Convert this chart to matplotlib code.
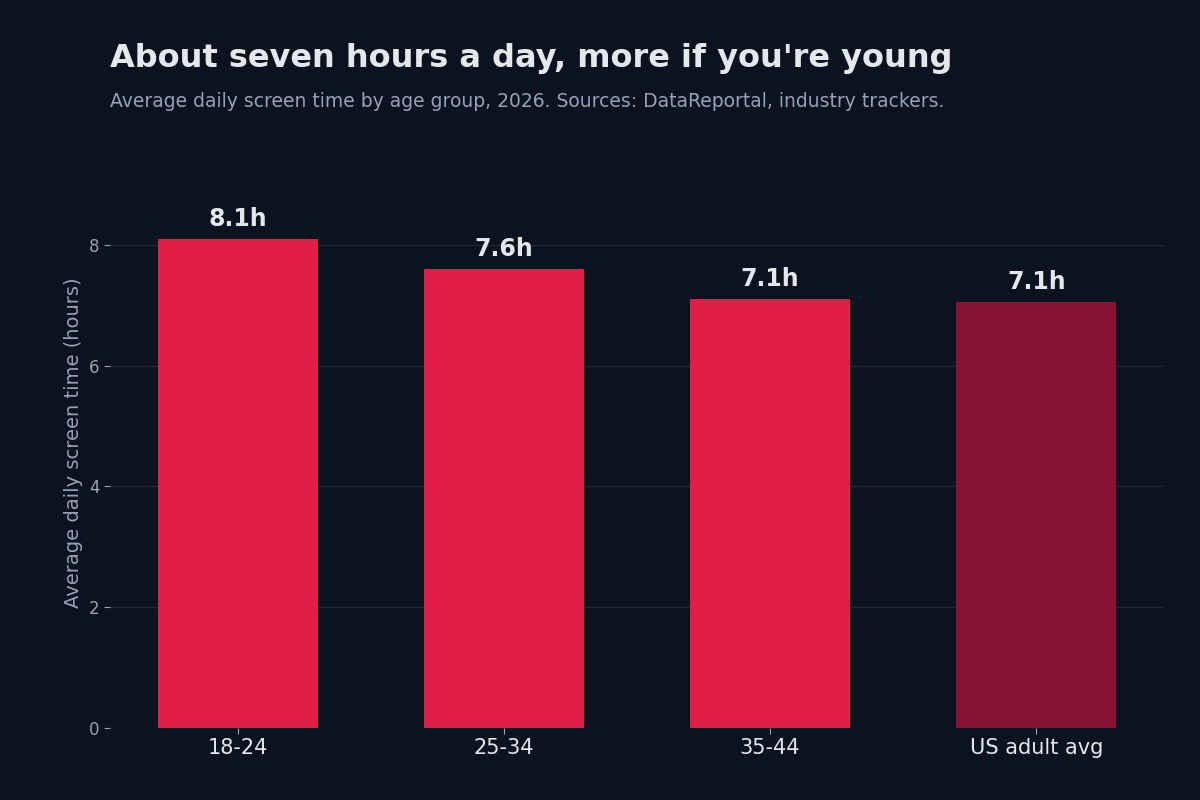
import matplotlib.pyplot as plt

# Data
groups = ["18-24", "25-34", "35-44", "US adult avg"]
hours = [8.1, 7.6, 7.1, 7.05]
labels = ["8.1h", "7.6h", "7.1h", "7.1h"]
colors = ["#e11d48", "#e11d48", "#e11d48", "#881337"]

bg = "#0b1220"
fig = plt.figure(figsize=(12, 8), dpi=100, facecolor=bg)
ax = fig.add_axes([0.0917, 0.09, 0.8783, 0.7125])
ax.set_facecolor(bg)

bars = ax.bar(groups, hours, width=0.6, color=colors, zorder=3)
for b, lab in zip(bars, labels):
    ax.annotate(lab, (b.get_x() + b.get_width() / 2, b.get_height()),
                xytext=(0, 6), textcoords="offset points", ha="center", va="bottom",
                fontsize=17, fontweight="bold", color="#e5e7eb")

ax.set_ylim(0, 9.44)
ax.set_yticks([0, 2, 4, 6, 8])
ax.grid(axis="y", color="#1f2a37", linewidth=1, zorder=0)
for s in ax.spines.values():
    s.set_visible(False)
ax.tick_params(axis="x", colors="#94a3b8", labelcolor="#e5e7eb", labelsize=15, length=4)
ax.tick_params(axis="y", colors="#94a3b8", labelcolor="#94a3b8", labelsize=12, length=4)
ax.set_ylabel("Average daily screen time (hours)", color="#94a3b8", fontsize=14)

fig.text(0.0917, 0.927, "About seven hours a day, more if you're young",
         fontsize=23, fontweight="bold", color="#e5e7eb", va="center")
fig.text(0.0917, 0.873, "Average daily screen time by age group, 2026. Sources: DataReportal, industry trackers.",
         fontsize=13.5, color="#94a3b8", va="center")

fig.savefig("out.png", facecolor=bg)
